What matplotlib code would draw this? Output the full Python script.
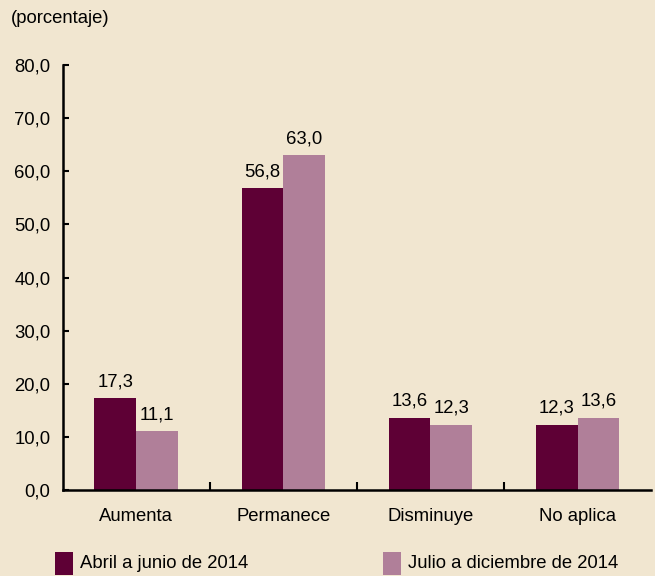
import numpy as np
import matplotlib
matplotlib.use("Agg")
from matplotlib import pyplot as plt
from matplotlib.patches import Rectangle

categorias = ["Aumenta", "Permanece", "Disminuye", "No aplica"]
abril_junio = [17.3, 56.8, 13.6, 12.3]
julio_dic = [11.1, 63.0, 12.3, 13.6]
serie_nombres = ["Abril a junio de 2014", "Julio a diciembre de 2014"]
yticks = [0, 10, 20, 30, 40, 50, 60, 70, 80]

fondo = "#F1E6D0"
c1 = "#5E0035"
c2 = "#B07F99"
fs = 13.3

plt.rcParams["font.family"] = ["Liberation Sans", "DejaVu Sans"]
plt.rcParams["font.size"] = fs

fig = plt.figure(figsize=(6.55, 5.76), dpi=100, facecolor=fondo)
ax = fig.add_axes([0.096, 0.149, 0.898, 0.738])
ax.set_facecolor(fondo)

x = np.arange(len(categorias))
w = 0.285
b1 = ax.bar(x - w / 2, abril_junio, w, color=c1)
b2 = ax.bar(x + w / 2, julio_dic, w, color=c2)

# etiquetas de valores
for barras, vals in ((b1, abril_junio), (b2, julio_dic)):
    for r, v in zip(barras, vals):
        ax.text(r.get_x() + r.get_width() / 2, v + 1.5, f"{v:.1f}".replace(".", ","),
                ha="center", va="bottom", fontsize=fs)

ax.set_xlim(-0.5, 3.5)
ax.set_ylim(0, 80)
ax.set_yticks(yticks)
ax.set_yticklabels([f"{t:.1f}".replace(".", ",") for t in yticks])
ax.set_xticks([0.5, 1.5, 2.5])
ax.set_xticklabels([])
ax.set_xticks(x, minor=True)
ax.set_xticklabels(categorias, minor=True)
ax.tick_params(axis="x", which="major", direction="in", length=6, width=1.5)
ax.tick_params(axis="x", which="minor", length=0, pad=13)
ax.tick_params(axis="y", direction="in", length=4, width=1.5, pad=9)

for s in ["top", "right"]:
    ax.spines[s].set_visible(False)
for s in ["left", "bottom"]:
    ax.spines[s].set_linewidth(1.8)

fig.text(0.017, 0.968, "(porcentaje)", fontsize=fs, ha="left", va="center")

# leyenda hecha a mano
for col, nombre, xa in ((c1, serie_nombres[0], 0.084), (c2, serie_nombres[1], 0.585)):
    fig.patches.append(Rectangle((xa, 0.002), 0.027, 0.039, transform=fig.transFigure,
                                 facecolor=col, edgecolor="none"))
    fig.text(xa + 0.038, 0.021, nombre, fontsize=fs, ha="left", va="center")

fig.savefig("out.png", dpi=100, facecolor=fondo)
